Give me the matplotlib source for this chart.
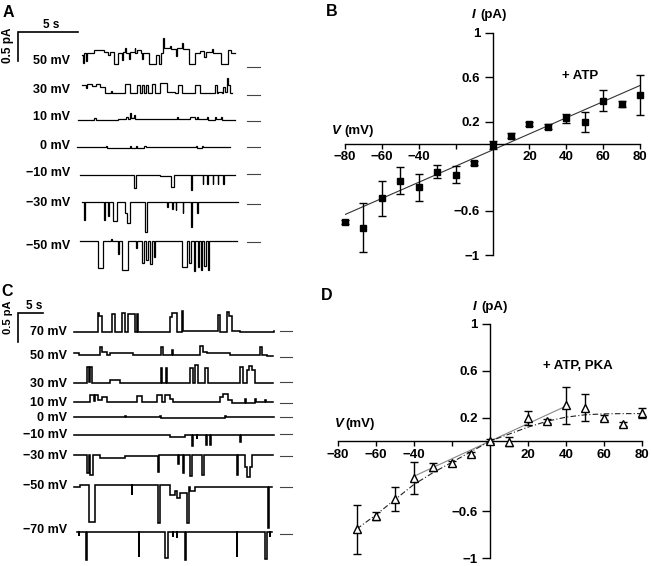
#!/usr/bin/env python3

import numpy as np
import matplotlib
matplotlib.use('Agg')
import matplotlib.pyplot as plt

plt.rcParams['font.family'] = ['Liberation Sans', 'DejaVu Sans']
plt.rcParams['font.weight'] = 'bold'

# ---- panel A: single-channel traces, steps (time s, current pA) ----
a_labels = ['50 mV', '30 mV', '10 mV', '0 mV', '\u221210 mV', '\u221230 mV', '\u221250 mV']
a_traces = [
    [(0, 0.22), (0.1, 0.07), (0.2, 0.24), (0.35, 0.1), (0.45, 0.25), (1.0, 0.29), (1.8, 0.26),
     (2.2, 0.22), (2.3, 0.26), (2.7, 0.05), (3.0, 0.25), (3.3, 0.12), (3.4, 0.26), (3.6, 0.33),
     (3.65, 0.25), (3.9, 0.15), (4.0, 0.27), (4.4, 0.34), (4.45, 0.24), (4.6, 0.3), (4.9, 0.24),
     (5.0, 0.15), (5.1, 0.25), (5.6, 0.05), (6.2, 0.22), (6.4, 0.06), (6.55, 0.24), (6.75, 0.5),
     (6.85, 0.33), (7.3, 0.36), (7.4, 0.31), (7.8, 0.2), (7.9, 0.33), (8.3, 0.42), (8.4, 0.32),
     (8.9, 0.05), (9.4, 0.25), (9.8, 0.28), (10.2, 0.18), (10.3, 0.26), (10.8, 0.31), (10.9, 0.25),
     (11.6, 0.05), (12.2, 0.3), (12.4, 0.24), (12.75, 0.24)],
    [(0, 0.17), (0.3, 0.12), (0.4, 0.19), (0.8, 0.16), (1.2, 0.2), (1.5, 0.15), (1.9, 0.04),
     (2.4, 0.07), (2.5, 0.04), (3.58, 0.2), (4.0, 0.04), (4.56, 0.18), (4.83, 0.04), (4.97, 0.18),
     (5.2, 0.04), (5.35, 0.18), (5.53, 0.04), (5.81, 0.2), (6.08, 0.04), (6.5, 0.22), (7.06, 0.05),
     (7.75, 0.04), (8.03, 0.17), (8.31, 0.04), (9.42, 0.17), (9.83, 0.04), (11.08, 0.17),
     (11.22, 0.04), (11.36, 0.05), (11.64, 0.04), (11.78, 0.15), (11.92, 0.05), (12.06, 0.3),
     (12.2, 0.18), (12.33, 0.04), (12.5, 0.04)],
    [(-0.3, 0.02), (1.0, 0.05), (1.2, 0.02), (3.0, 0.03), (3.7, 0.07), (3.8, 0.03), (4.0, 0.13),
     (4.1, 0.04), (4.3, 0.09), (4.4, 0.03), (7.9, 0.07), (8.0, 0.03), (9.0, 0.06), (9.4, 0.03),
     (9.6, 0.07), (9.7, 0.03), (10.4, 0.06), (10.5, 0.02), (11.1, 0.07), (11.2, 0.03), (11.6, 0.06),
     (11.7, 0.02), (12.75, 0.02)],
    [(-0.4, 0.0), (2.0, 0.02), (2.1, -0.01), (4.0, 0.03), (4.1, -0.02), (4.5, 0.02), (4.6, -0.01),
     (5.2, 0.03), (5.3, 0.0), (9.5, 0.02), (9.6, -0.01), (10.0, 0.02), (10.1, 0.0), (12.3, 0.0)],
    [(-0.2, -0.01), (4.35, -0.24), (4.5, -0.01), (6.5, -0.03), (7.4, -0.22), (7.65, -0.01),
     (9.1, -0.27), (9.2, -0.01), (10.05, -0.18), (10.1, -0.01), (10.45, -0.18), (10.5, -0.01),
     (10.9, -0.18), (10.95, -0.01), (11.3, -0.18), (11.35, -0.01), (11.75, -0.18), (11.8, -0.01),
     (12.75, -0.01)],
    [(0, 0.04), (0.15, -0.28), (0.25, 0.04), (1.85, -0.28), (1.95, 0.04), (2.15, -0.2), (2.25, 0.04),
     (2.6, -0.3), (2.9, 0.04), (3.6, -0.15), (3.75, -0.32), (4.0, 0.04), (5.25, -0.48), (5.4, 0.04),
     (7.1, -0.05), (7.15, 0.04), (7.5, -0.08), (7.55, 0.04), (7.8, -0.1), (7.85, 0.04), (8.4, -0.15),
     (8.45, 0.04), (9.1, -0.39), (9.2, 0.04), (9.6, -0.15), (9.65, 0.04), (13.0, 0.03)],
    [(-0.17, 0.03), (1.35, -0.45), (1.75, 0.03), (2.4, 0.06), (2.5, 0.02), (3.0, -0.2), (3.1, 0.03),
     (3.3, -0.47), (3.85, 0.03), (4.5, -0.1), (4.6, 0.03), (5.0, -0.36), (5.15, 0.03), (5.35, -0.3),
     (5.5, 0.03), (5.7, -0.38), (5.8, 0.03), (6.0, -0.25), (6.1, 0.03), (8.3, -0.43), (8.75, 0.03),
     (8.95, -0.35), (9.1, 0.03), (9.3, -0.5), (9.45, 0.03), (9.65, -0.42), (9.75, 0.03), (9.9, -0.47),
     (10.0, 0.03), (10.2, -0.4), (10.3, 0.03), (10.5, -0.48), (10.6, 0.03), (12.9, 0.03)],
]

# ---- panel C: traces with ATP + PKA ----
c_labels = ['70 mV', '50 mV', '30 mV', '10 mV', '0 mV', '\u221210 mV', '\u221230 mV',
            '\u221250 mV', '\u221270 mV']
c_traces = [
    [(-0.2, -0.02), (4.6, 0.3), (4.8, 0.25), (5.4, -0.02), (7.4, 0.28), (8.0, -0.02), (9.4, 0.3),
     (10.0, -0.02), (10.6, 0.28), (12.0, -0.02), (12.4, 0.28), (12.6, -0.02), (19.0, 0.24),
     (19.4, 0.3), (20.4, -0.02), (21.4, 0.34), (21.6, -0.01), (28.6, 0.27), (29.0, -0.02),
     (30.4, 0.32), (30.8, 0.25), (31.4, 0.0), (33.0, -0.02), (39.8, 0.0)],
    [(-0.2, 0.06), (0.8, 0.03), (5.0, 0.17), (5.4, 0.08), (6.4, 0.03), (7.0, 0.07), (11.6, 0.03),
     (17.2, 0.16), (17.5, 0.03), (19.4, 0.12), (19.6, 0.03), (25.0, 0.18), (25.6, 0.08), (26.4, 0.07),
     (31.0, 0.03), (37.0, 0.17), (37.4, 0.03), (38.4, 0.01), (39.6, 0.01)],
    [(-0.2, -0.02), (2.3, 0.27), (2.7, 0.0), (2.9, 0.27), (3.3, -0.02), (7.0, 0.04), (9.0, -0.02),
     (17.2, 0.25), (17.4, -0.02), (18.2, 0.25), (18.4, -0.02), (23.0, 0.24), (23.6, -0.02),
     (24.0, 0.3), (24.6, -0.02), (26.0, 0.25), (26.6, -0.02), (33.0, 0.27), (33.5, -0.02),
     (34.3, 0.22), (34.7, 0.28), (35.3, 0.22), (36.0, -0.02), (39.6, -0.02)],
    [(-0.2, 0.02), (3.0, 0.13), (3.7, 0.03), (4.0, 0.14), (4.6, 0.04), (5.4, 0.09), (6.4, 0.02),
     (12.3, 0.12), (13.3, 0.02), (16.3, 0.13), (17.3, 0.02), (18.0, 0.13), (19.0, 0.06), (19.6, 0.02),
     (29.0, 0.1), (29.6, 0.15), (30.6, 0.05), (31.4, -0.01), (34.0, 0.06), (34.2, 0.0), (36.0, 0.06),
     (36.2, 0.01), (38.0, 0.05), (38.2, 0.01), (39.6, 0.02)],
    [(-0.2, 0.0), (10.0, 0.03), (10.2, 0.0), (17.0, 0.03), (17.2, -0.01), (30.0, 0.03), (30.2, 0.0),
     (39.8, 0.0)],
    [(-0.2, -0.01), (19.0, -0.04), (22.0, -0.02), (23.3, -0.21), (23.5, -0.02), (24.3, -0.08),
     (24.4, -0.02), (26.1, -0.18), (26.3, -0.02), (26.9, -0.18), (27.1, -0.02), (33.0, -0.13),
     (33.1, -0.02), (39.8, -0.01)],
    [(-0.2, 0.01), (2.3, -0.3), (2.7, 0.01), (3.0, -0.33), (3.5, 0.01), (5.0, -0.04), (10.0, 0.0),
     (16.6, -0.28), (16.8, 0.01), (20.6, -0.15), (20.7, 0.01), (21.6, -0.3), (21.8, 0.01),
     (22.9, -0.35), (23.3, 0.01), (25.3, -0.33), (25.7, 0.01), (32.3, -0.33), (32.6, 0.01),
     (34.0, -0.2), (34.4, -0.36), (35.0, -0.2), (35.3, 0.01), (39.6, 0.01)],
    [(-0.2, 0.0), (1.0, 0.03), (2.7, -0.6), (4.0, 0.03), (11.3, -0.14), (11.4, 0.03), (16.5, -0.63),
     (16.9, 0.03), (19.0, -0.15), (20.0, -0.08), (20.4, -0.2), (21.0, -0.1), (22.3, -0.63),
     (22.8, 0.0), (23.0, -0.08), (24.0, 0.0), (38.5, -0.72), (38.8, 0.0), (39.3, 0.0)],
    [(0.3, 0.04), (0.7, -0.03), (0.8, 0.04), (2.2, -0.45), (2.3, 0.04), (12.7, -0.4), (12.8, 0.04),
     (18.0, -0.42), (18.5, 0.04), (19.5, -0.05), (19.6, 0.04), (20.3, -0.07), (20.4, 0.04),
     (22.0, -0.45), (22.1, 0.04), (32.3, -0.4), (32.4, 0.04), (38.0, -0.43), (38.3, 0.04),
     (38.9, -0.05), (39.0, 0.04), (39.3, 0.04)],
]

# ---- panel B: I-V with ATP ----
b_v = [-80, -70, -60, -50, -40, -30, -20, -10, 0, 10, 20, 30, 40, 50, 60, 70, 80]
b_i = [-0.705, -0.756, -0.49, -0.33, -0.39, -0.25, -0.276, -0.17, -0.012, 0.075, 0.18, 0.156,
       0.23, 0.195, 0.39, 0.36, 0.44]
b_err = [0.02, 0.22, 0.16, 0.125, 0.12, 0.06, 0.08, 0.02, 0.036, 0.02, 0.015, 0.02, 0.04,
         0.09, 0.09, 0.025, 0.18]
b_fit_v = [-80, 80]
b_fit_i = [-0.636, 0.525]

# ---- panel D: I-V with ATP + PKA ----
d_v = [-70, -60, -50, -40, -30, -20, -10, 0, 10, 20, 30, 40, 50, 60, 70, 80]
d_i = [-0.754, -0.64, -0.495, -0.313, -0.22, -0.19, -0.11, 0.0, -0.005, 0.2, 0.173, 0.307,
       0.285, 0.2, 0.145, 0.24]
d_err = [0.21, 0.035, 0.1, 0.135, 0.034, 0.02, 0.015, 0.015, 0.04, 0.06, 0.02, 0.157, 0.117,
         0.02, 0.015, 0.04]
d_lin_v = [-40, 40]
d_lin_i = [-0.30, 0.30]
d_curve_v = [-70, -60, -50, -40, -30, -20, -10, 0, 10, 20, 30, 40, 50, 60, 70, 80]
d_curve_i = [-0.75, -0.63, -0.5, -0.37, -0.27, -0.18, -0.09, 0.0, 0.06, 0.12, 0.17, 0.205,
             0.225, 0.233, 0.235, 0.235]

W, H = 651, 566
PX_PER_PA = 58.0

fig = plt.figure(figsize=(W / 100, H / 100), dpi=100)


def ftext(x, y, s, **kw):
    fig.text(x / W, 1 - y / H, s, **kw)


def trace_panel(rect, top_px, x0_px, px_per_s, traces, labels, rows_px, label_px, label_x,
                dash_px, lw, bar_px, bar_len_s):
    ax = fig.add_axes(rect)
    width_px = rect[2] * W
    ax.set_xlim(-x0_px / px_per_s, (width_px - x0_px) / px_per_s)
    ax.set_ylim(-rect[3] * H / PX_PER_PA, 0)
    ax.axis('off')
    for tr, lab, row, lrow in zip(traces, labels, rows_px, label_px):
        off = -(row - top_px) / PX_PER_PA
        t = [p[0] for p in tr]
        i = [p[1] + off for p in tr]
        ax.step(t, i, where='post', color='black', lw=lw, solid_joinstyle='miter')
        ax.plot([(dash_px[0] - x0_px) / px_per_s, (dash_px[1] - x0_px) / px_per_s], [off, off],
                color='#444444', lw=0.8)
        ax.text((label_x - x0_px) / px_per_s, -(lrow - top_px) / PX_PER_PA, lab, ha='right',
                va='center', fontsize=9, fontweight='bold')
    # scale bar
    bx = (bar_px[0] - x0_px) / px_per_s
    by = -(bar_px[1] - top_px) / PX_PER_PA
    ax.plot([bx + bar_len_s, bx, bx], [by, by, by - 0.5], color='black', lw=1.2,
            solid_joinstyle='miter', clip_on=False)
    return ax


# A
trace_panel([0, 0.5, 300 / W, 0.5], 0, 82, 12.0, a_traces, a_labels,
            [67.3, 95.3, 120.7, 147.3, 174, 204, 242.3],
            [61, 90, 117, 146, 173, 203, 246], 70,
            (247, 260), 0.9, (18.3, 32.3), 5)
ftext(51, 25, '5 s', ha='center', va='center', fontsize=8.5, fontweight='bold')
ftext(8, 45, '0.5 pA', ha='center', va='center', rotation=90, fontsize=8.5, fontweight='bold')

# C
trace_panel([0, 0, 300 / W, 0.5], 283, 75, 5.0, c_traces, c_labels,
            [330.7, 356.7, 382.3, 402.7, 417.3, 434.3, 455.7, 486.7, 534],
            [331.7, 355.7, 384, 402.7, 417.7, 435, 455.7, 485.7, 530], 67,
            (280, 292), 1.15, (18.3, 313.3), 5)
ftext(34, 306, '5 s', ha='center', va='center', fontsize=8.5, fontweight='bold')
ftext(8, 317, '0.5 pA', ha='center', va='center', rotation=90, fontsize=8, fontweight='bold')


def iv_axes(rect):
    ax = fig.add_axes(rect)
    ax.set_xlim(-80, 80)
    ax.set_ylim(-1, 1)
    ax.patch.set_visible(False)
    for s in ('top', 'right'):
        ax.spines[s].set_visible(False)
    ax.spines['left'].set_position(('data', 0))
    ax.spines['bottom'].set_position(('data', 0))
    for s in ('left', 'bottom'):
        ax.spines[s].set_linewidth(1.0)
    ax.set_xticks([-80, -60, -40, -20, 20, 40, 60, 80],
                  ['\u221280', '\u221260', '\u221240', '', '20', '40', '60', '80'])
    ax.set_yticks([1, 0.6, 0.2, -0.6, -1], ['1', '0.6', '0.2', '\u22120.6', '\u22121'])
    ax.tick_params(axis='x', direction='out', length=3.5, width=1.0, labelsize=9.5, pad=2)
    ax.tick_params(axis='y', direction='out', length=6, width=1.0, labelsize=9.5, pad=3)
    for lab in ax.get_xticklabels() + ax.get_yticklabels():
        lab.set_fontweight('bold')
    return ax


def unclip(container):
    for art in container.get_children():
        art.set_clip_on(False)


# B
axb = iv_axes([345 / W, 1 - 255 / H, 295 / W, 222.3 / H])
axb.plot(b_fit_v, b_fit_i, color='#333333', lw=0.8, zorder=1)
unclip(axb.errorbar(b_v, b_i, yerr=b_err, fmt='s', color='black', ms=5, elinewidth=1.0,
                    capsize=3, capthick=1.0, zorder=3))
axb.text(-10.3, 1.163, 'I', ha='center', va='center', fontsize=9.5, fontweight='bold',
         style='italic', clip_on=False)
axb.text(-6.5, 1.163, '(pA)', ha='left', va='center', fontsize=9.5, fontweight='bold',
         clip_on=False)
axb.text(-84.5, 0.113, 'V', ha='center', va='center', fontsize=9.5, fontweight='bold',
         style='italic', clip_on=False)
axb.text(-80.6, 0.113, '(mV)', ha='left', va='center', fontsize=9.5, fontweight='bold',
         clip_on=False)
axb.text(47.3, 0.614, '+ ATP', ha='center', va='center', fontsize=9.5, fontweight='bold')

# D
axd = iv_axes([337.7 / W, 1 - 558.3 / H, 304.6 / W, 234.3 / H])
axd.plot(d_lin_v, d_lin_i, color='#888888', lw=0.8, zorder=1)
axd.plot(d_curve_v, d_curve_i, color='#222222', lw=0.8, ls=(0, (5, 2, 1, 2)), zorder=1)
unclip(axd.errorbar(d_v, d_i, yerr=d_err, fmt='^', color='black', mfc='white', mec='black',
                    mew=1.0, ms=5.5, elinewidth=1.0, capsize=3, capthick=1.0, zorder=3))
axd.text(-7.9, 1.148, 'I', ha='center', va='center', fontsize=9.5, fontweight='bold',
         style='italic', clip_on=False)
axd.text(-4.5, 1.148, '(pA)', ha='left', va='center', fontsize=9.5, fontweight='bold',
         clip_on=False)
axd.text(-79.3, 0.144, 'V', ha='center', va='center', fontsize=9.5, fontweight='bold',
         style='italic', clip_on=False)
axd.text(-75.8, 0.144, '(mV)', ha='left', va='center', fontsize=9.5, fontweight='bold',
         clip_on=False)
axd.text(46.3, 0.64, '+ ATP, PKA', ha='center', va='center', fontsize=9.5, fontweight='bold')

# panel letters
for letter, x, y in [('A', 8, 12.5), ('B', 332, 12), ('C', 7, 291), ('D', 327, 295)]:
    ftext(x, y, letter, ha='center', va='center', fontsize=11.5, fontweight='bold')

fig.savefig('out.png', dpi=100)
